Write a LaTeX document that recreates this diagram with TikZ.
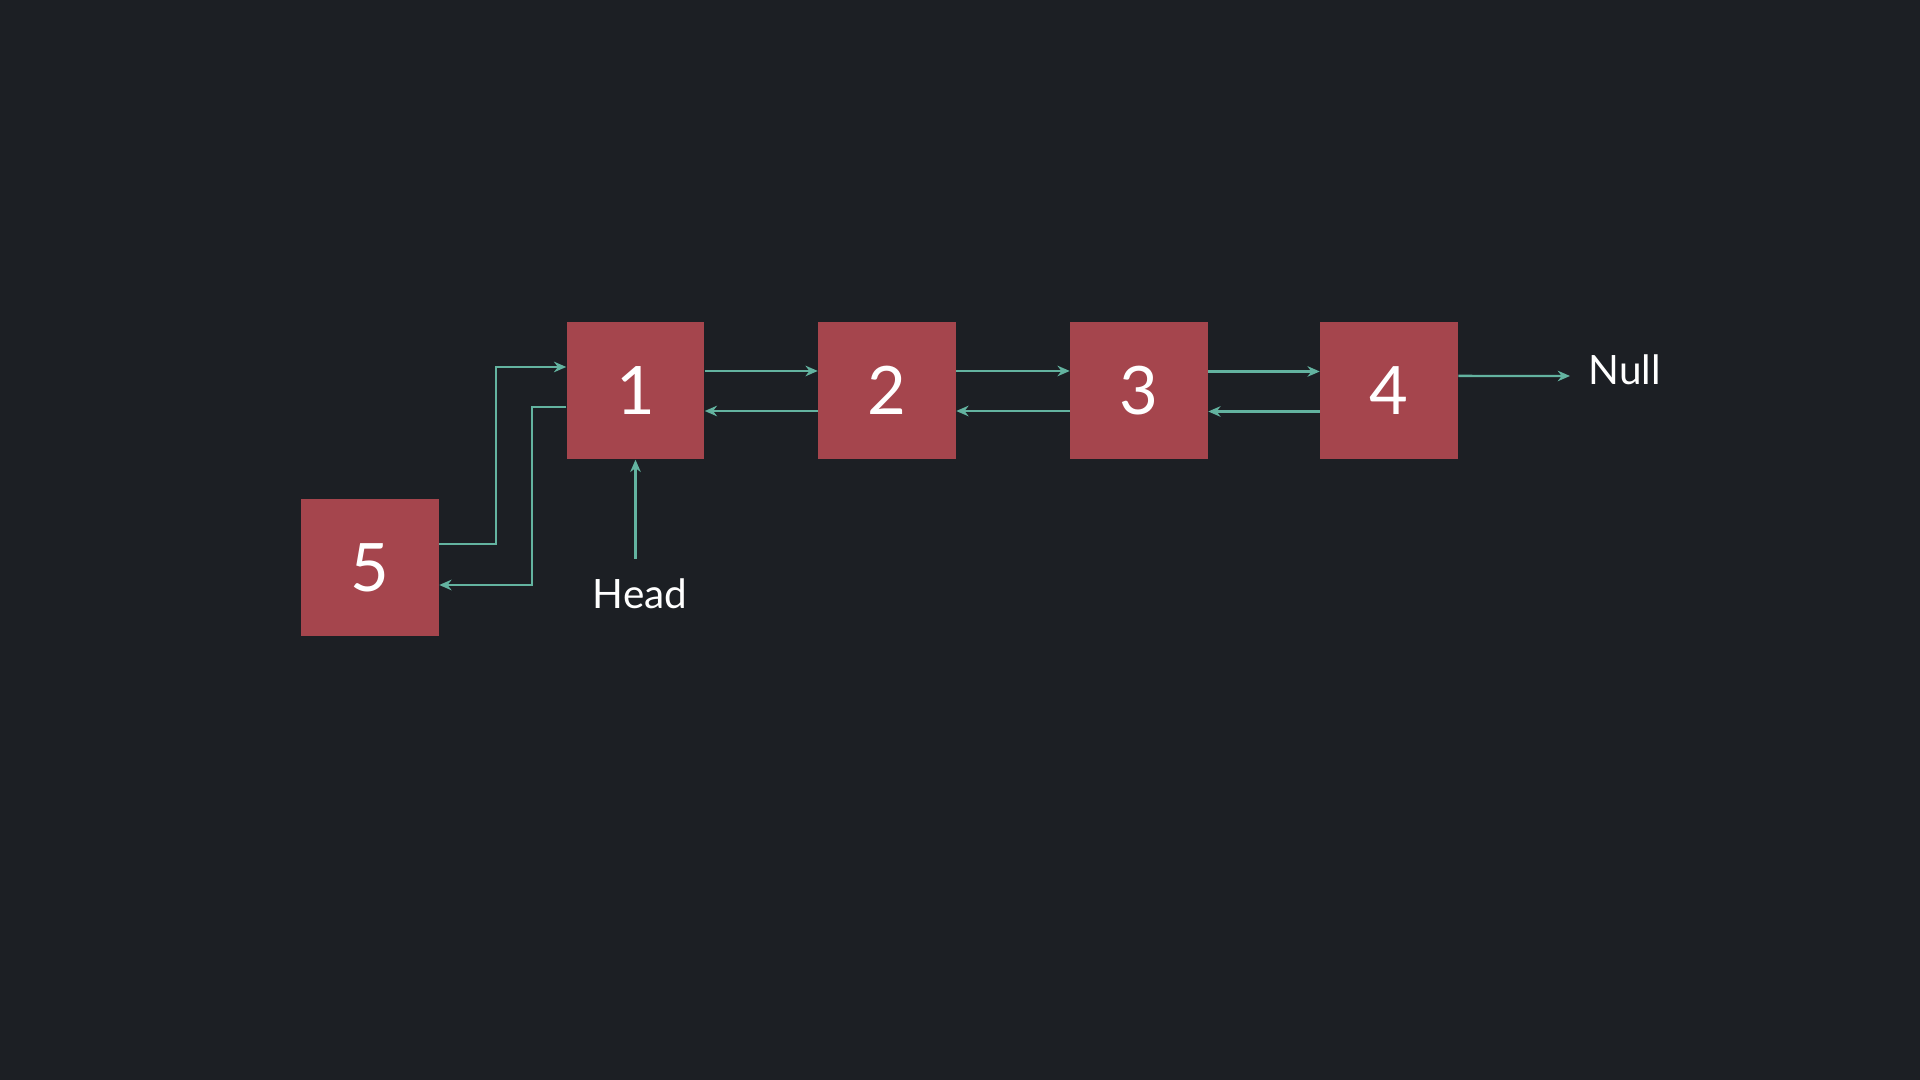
\documentclass[tikz,border=0pt]{standalone}
\usepackage{fontspec}
\setmainfont{Lato}
\usepackage{xcolor}
\usepackage{tikz}
\usetikzlibrary{arrows.meta}

\definecolor{bgdark}{HTML}{1C1F24}
\definecolor{boxred}{HTML}{A5454D}
\definecolor{linkteal}{HTML}{63B3A0}

\begin{document}
\begin{tikzpicture}[x=0.01cm,y=-0.01cm,
  elem/.style={fill=boxred,minimum size=1.37cm,inner sep=0pt,text=white,font=\fontsize{19}{19}\selectfont},
  lbl/.style={text=white,font=\fontsize{11.5}{11.5}\selectfont},
  link/.style={draw=linkteal,line width=0.7pt,-{Stealth[length=3.5pt,width=3pt]}}]
\fill[bgdark] (0,0) rectangle (1920,1080);
\useasboundingbox (0,0) rectangle (1920,1080);

\node[elem] (n1) at (635.5,390.5) {1};
\node[elem] (n2) at (887,390.5) {2};
\node[elem] (n3) at (1139,390.5) {3};
\node[elem] (n4) at (1389,390.5) {4};
\node[elem] (n5) at (370,567.5) {5};

\node[lbl] (head) at (640,594) {Head};
\coordinate (nullend) at (1570,376);
\node[lbl,anchor=west] (null) at (1576,370) {Null};

% forward links
\draw[link] ([yshift=0.195cm]n1.east) -- ([yshift=0.195cm]n2.west);
\draw[link] ([yshift=0.195cm]n2.east) -- ([yshift=0.195cm]n3.west);
\draw[link] ([yshift=0.19cm]n3.east) -- ([yshift=0.19cm]n4.west);
\draw[link] ([yshift=0.145cm]n4.east) -- (nullend);

% backward links
\draw[link] ([yshift=-0.205cm]n2.west) -- ([yshift=-0.205cm]n1.east);
\draw[link] ([yshift=-0.205cm]n3.west) -- ([yshift=-0.205cm]n2.east);
\draw[link] ([yshift=-0.21cm]n4.west) -- ([yshift=-0.21cm]n3.east);

% new node 5
\coordinate (j1) at (496,456);
\coordinate (j2) at (532,496);
\draw[link] ([yshift=0.235cm]n5.east) -| (j1) |- ([yshift=0.235cm]n1.west);
\draw[link] ([yshift=-0.165cm]n1.west) -| (j2) |- ([yshift=-0.175cm]n5.east);

\draw[link] ([yshift=0.08cm]head.north -| n1.south) -- (n1.south);
\end{tikzpicture}
\end{document}
